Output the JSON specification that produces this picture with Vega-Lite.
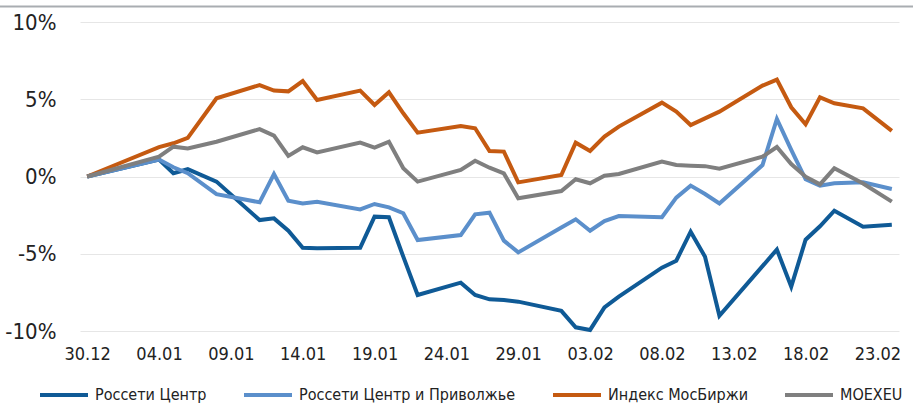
{
  "$schema": "https://vega.github.io/schema/vega-lite/v6.json",
  "autosize": {"type": "none"},
  "width": 819,
  "height": 309,
  "padding": {"left": 80, "top": 22, "right": 14, "bottom": 74},
  "background": "white",
  "config": {
    "font": "DejaVu Sans Condensed, Roboto",
    "view": {"stroke": null},
    "axis": {"labelFont": "DejaVu Sans Condensed, Roboto", "labelColor": "#222222"},
    "legend": {"labelFont": "DejaVu Sans Condensed, Roboto", "labelColor": "#222222"}
  },
  "layer": [
    {
      "data": {"values": [{}]},
      "mark": {"type": "rule", "stroke": "#A9ADB1", "strokeWidth": 2},
      "encoding": {
        "x": {"datum": {"year": 2020, "month": 12, "date": 23, "hours": 20, "utc": true}, "type": "temporal"},
        "x2": {"datum": {"year": 2021, "month": 2, "date": 25, "hours": 12, "utc": true}},
        "y": {"datum": 11.0, "type": "quantitative"}
      }
    },
    {
      "data": {
        "values": [
          {"date": "2020-12-30", "a": 0, "b": 0, "c": 0, "d": 0},
          {"date": "2021-01-04", "a": 1.1, "b": 1.1, "c": 1.9, "d": 1.28},
          {"date": "2021-01-05", "a": 0.21, "b": 0.6, "c": 2.15, "d": 1.93},
          {"date": "2021-01-06", "a": 0.47, "b": 0.21, "c": 2.5, "d": 1.82},
          {"date": "2021-01-08", "a": -0.33, "b": -1.14, "c": 5.06, "d": 2.25},
          {"date": "2021-01-11", "a": -2.82, "b": -1.67, "c": 5.92, "d": 3.07},
          {"date": "2021-01-12", "a": -2.71, "b": 0.16, "c": 5.56, "d": 2.64},
          {"date": "2021-01-13", "a": -3.51, "b": -1.56, "c": 5.51, "d": 1.33},
          {"date": "2021-01-14", "a": -4.61, "b": -1.74, "c": 6.18, "d": 1.89},
          {"date": "2021-01-15", "a": -4.65, "b": -1.63, "c": 4.95, "d": 1.56},
          {"date": "2021-01-18", "a": -4.61, "b": -2.13, "c": 5.56, "d": 2.19},
          {"date": "2021-01-19", "a": -2.6, "b": -1.78, "c": 4.63, "d": 1.87},
          {"date": "2021-01-20", "a": -2.64, "b": -2.0, "c": 5.45, "d": 2.25},
          {"date": "2021-01-21", "a": -5.19, "b": -2.38, "c": 4.09, "d": 0.53},
          {"date": "2021-01-22", "a": -7.67, "b": -4.11, "c": 2.84, "d": -0.33},
          {"date": "2021-01-25", "a": -6.87, "b": -3.79, "c": 3.27, "d": 0.42},
          {"date": "2021-01-26", "a": -7.67, "b": -2.45, "c": 3.12, "d": 1.02},
          {"date": "2021-01-27", "a": -7.95, "b": -2.34, "c": 1.65, "d": 0.57},
          {"date": "2021-01-28", "a": -8.0, "b": -4.15, "c": 1.61, "d": 0.2},
          {"date": "2021-01-29", "a": -8.1, "b": -4.91, "c": -0.38, "d": -1.41},
          {"date": "2021-02-01", "a": -8.7, "b": -3.3, "c": 0.1, "d": -0.94},
          {"date": "2021-02-02", "a": -9.76, "b": -2.77, "c": 2.19, "d": -0.18},
          {"date": "2021-02-03", "a": -9.93, "b": -3.51, "c": 1.65, "d": -0.44},
          {"date": "2021-02-04", "a": -8.47, "b": -2.88, "c": 2.58, "d": 0.05},
          {"date": "2021-02-05", "a": -7.78, "b": -2.56, "c": 3.23, "d": 0.16},
          {"date": "2021-02-08", "a": -5.9, "b": -2.64, "c": 4.78, "d": 0.96},
          {"date": "2021-02-09", "a": -5.45, "b": -1.37, "c": 4.2, "d": 0.74},
          {"date": "2021-02-10", "a": -3.57, "b": -0.59, "c": 3.33, "d": 0.7},
          {"date": "2021-02-11", "a": -5.19, "b": -1.13, "c": 3.76, "d": 0.67},
          {"date": "2021-02-12", "a": -9.01, "b": -1.74, "c": 4.2, "d": 0.51},
          {"date": "2021-02-15", "a": -5.8, "b": 0.74, "c": 5.88, "d": 1.28},
          {"date": "2021-02-16", "a": -4.73, "b": 3.72, "c": 6.27, "d": 1.91},
          {"date": "2021-02-17", "a": -7.13, "b": 1.72, "c": 4.48, "d": 0.81},
          {"date": "2021-02-18", "a": -4.09, "b": -0.18, "c": 3.38, "d": -0.01},
          {"date": "2021-02-19", "a": -3.22, "b": -0.59, "c": 5.12, "d": -0.51},
          {"date": "2021-02-20", "a": -2.21, "b": -0.44, "c": 4.74, "d": 0.53},
          {"date": "2021-02-22", "a": -3.25, "b": -0.38, "c": 4.41, "d": -0.45},
          {"date": "2021-02-24", "a": -3.12, "b": -0.81, "c": 2.95, "d": -1.63}
        ]
      },
      "transform": [
        {"fold": ["a", "b", "c", "d"], "as": ["key", "value"]},
        {"lookup": "key", "from": {"data": {"values": [
          {"key": "a", "series": "Россети Центр"},
          {"key": "b", "series": "Россети Центр и Приволжье"},
          {"key": "c", "series": "Индекс МосБиржи"},
          {"key": "d", "series": "MOEXEU"}
        ]}, "key": "key", "fields": ["series"]}}
      ],
      "mark": {"type": "line", "strokeWidth": 4, "strokeJoin": "miter", "strokeCap": "butt"},
      "encoding": {
        "x": {
          "field": "date",
          "type": "temporal",
          "scale": {
            "type": "utc",
            "domain": [
              {"year": 2020, "month": 12, "date": 29, "hours": 12, "utc": true},
              {"year": 2021, "month": 2, "date": 24, "hours": 12, "utc": true}
            ]
          },
          "axis": {
            "title": null,
            "labelExpr": "utcFormat(datum.value, '%d.%m')",
            "values": [
              {"year": 2020, "month": 12, "date": 30, "utc": true},
              {"year": 2021, "month": 1, "date": 4, "utc": true},
              {"year": 2021, "month": 1, "date": 9, "utc": true},
              {"year": 2021, "month": 1, "date": 14, "utc": true},
              {"year": 2021, "month": 1, "date": 19, "utc": true},
              {"year": 2021, "month": 1, "date": 24, "utc": true},
              {"year": 2021, "month": 1, "date": 29, "utc": true},
              {"year": 2021, "month": 2, "date": 3, "utc": true},
              {"year": 2021, "month": 2, "date": 8, "utc": true},
              {"year": 2021, "month": 2, "date": 13, "utc": true},
              {"year": 2021, "month": 2, "date": 18, "utc": true},
              {"year": 2021, "month": 2, "date": 23, "utc": true}
            ],
            "grid": false,
            "ticks": false,
            "domain": false,
            "labelFontSize": 18,
            "labelPadding": 14,
            "labelOverlap": false
          }
        },
        "y": {
          "field": "value",
          "type": "quantitative",
          "scale": {"domain": [-10, 10], "nice": false},
          "axis": {
            "title": null,
            "values": [-10, -5, 0, 5, 10],
            "labelExpr": "datum.value + '%'",
            "grid": true,
            "gridColor": "#E6E6E6",
            "gridWidth": 1,
            "ticks": false,
            "domain": false,
            "labelFontSize": 22,
            "labelPadding": 24
          }
        },
        "color": {
          "field": "series",
          "type": "nominal",
          "scale": {
            "domain": ["Россети Центр", "Россети Центр и Приволжье", "Индекс МосБиржи", "MOEXEU"],
            "range": ["#0F5A96", "#5B8FCB", "#C55A11", "#7F7F7F"]
          },
          "legend": {
            "title": null,
            "orient": "none",
            "direction": "horizontal",
            "legendX": -42,
            "legendY": 347,
            "symbolType": "stroke",
            "symbolSize": 2304,
            "symbolStrokeWidth": 4,
            "labelFontSize": 16,
            "labelOffset": 5,
            "labelLimit": 400,
            "columnPadding": 29,
            "padding": 0
          }
        }
      }
    }
  ]
}
